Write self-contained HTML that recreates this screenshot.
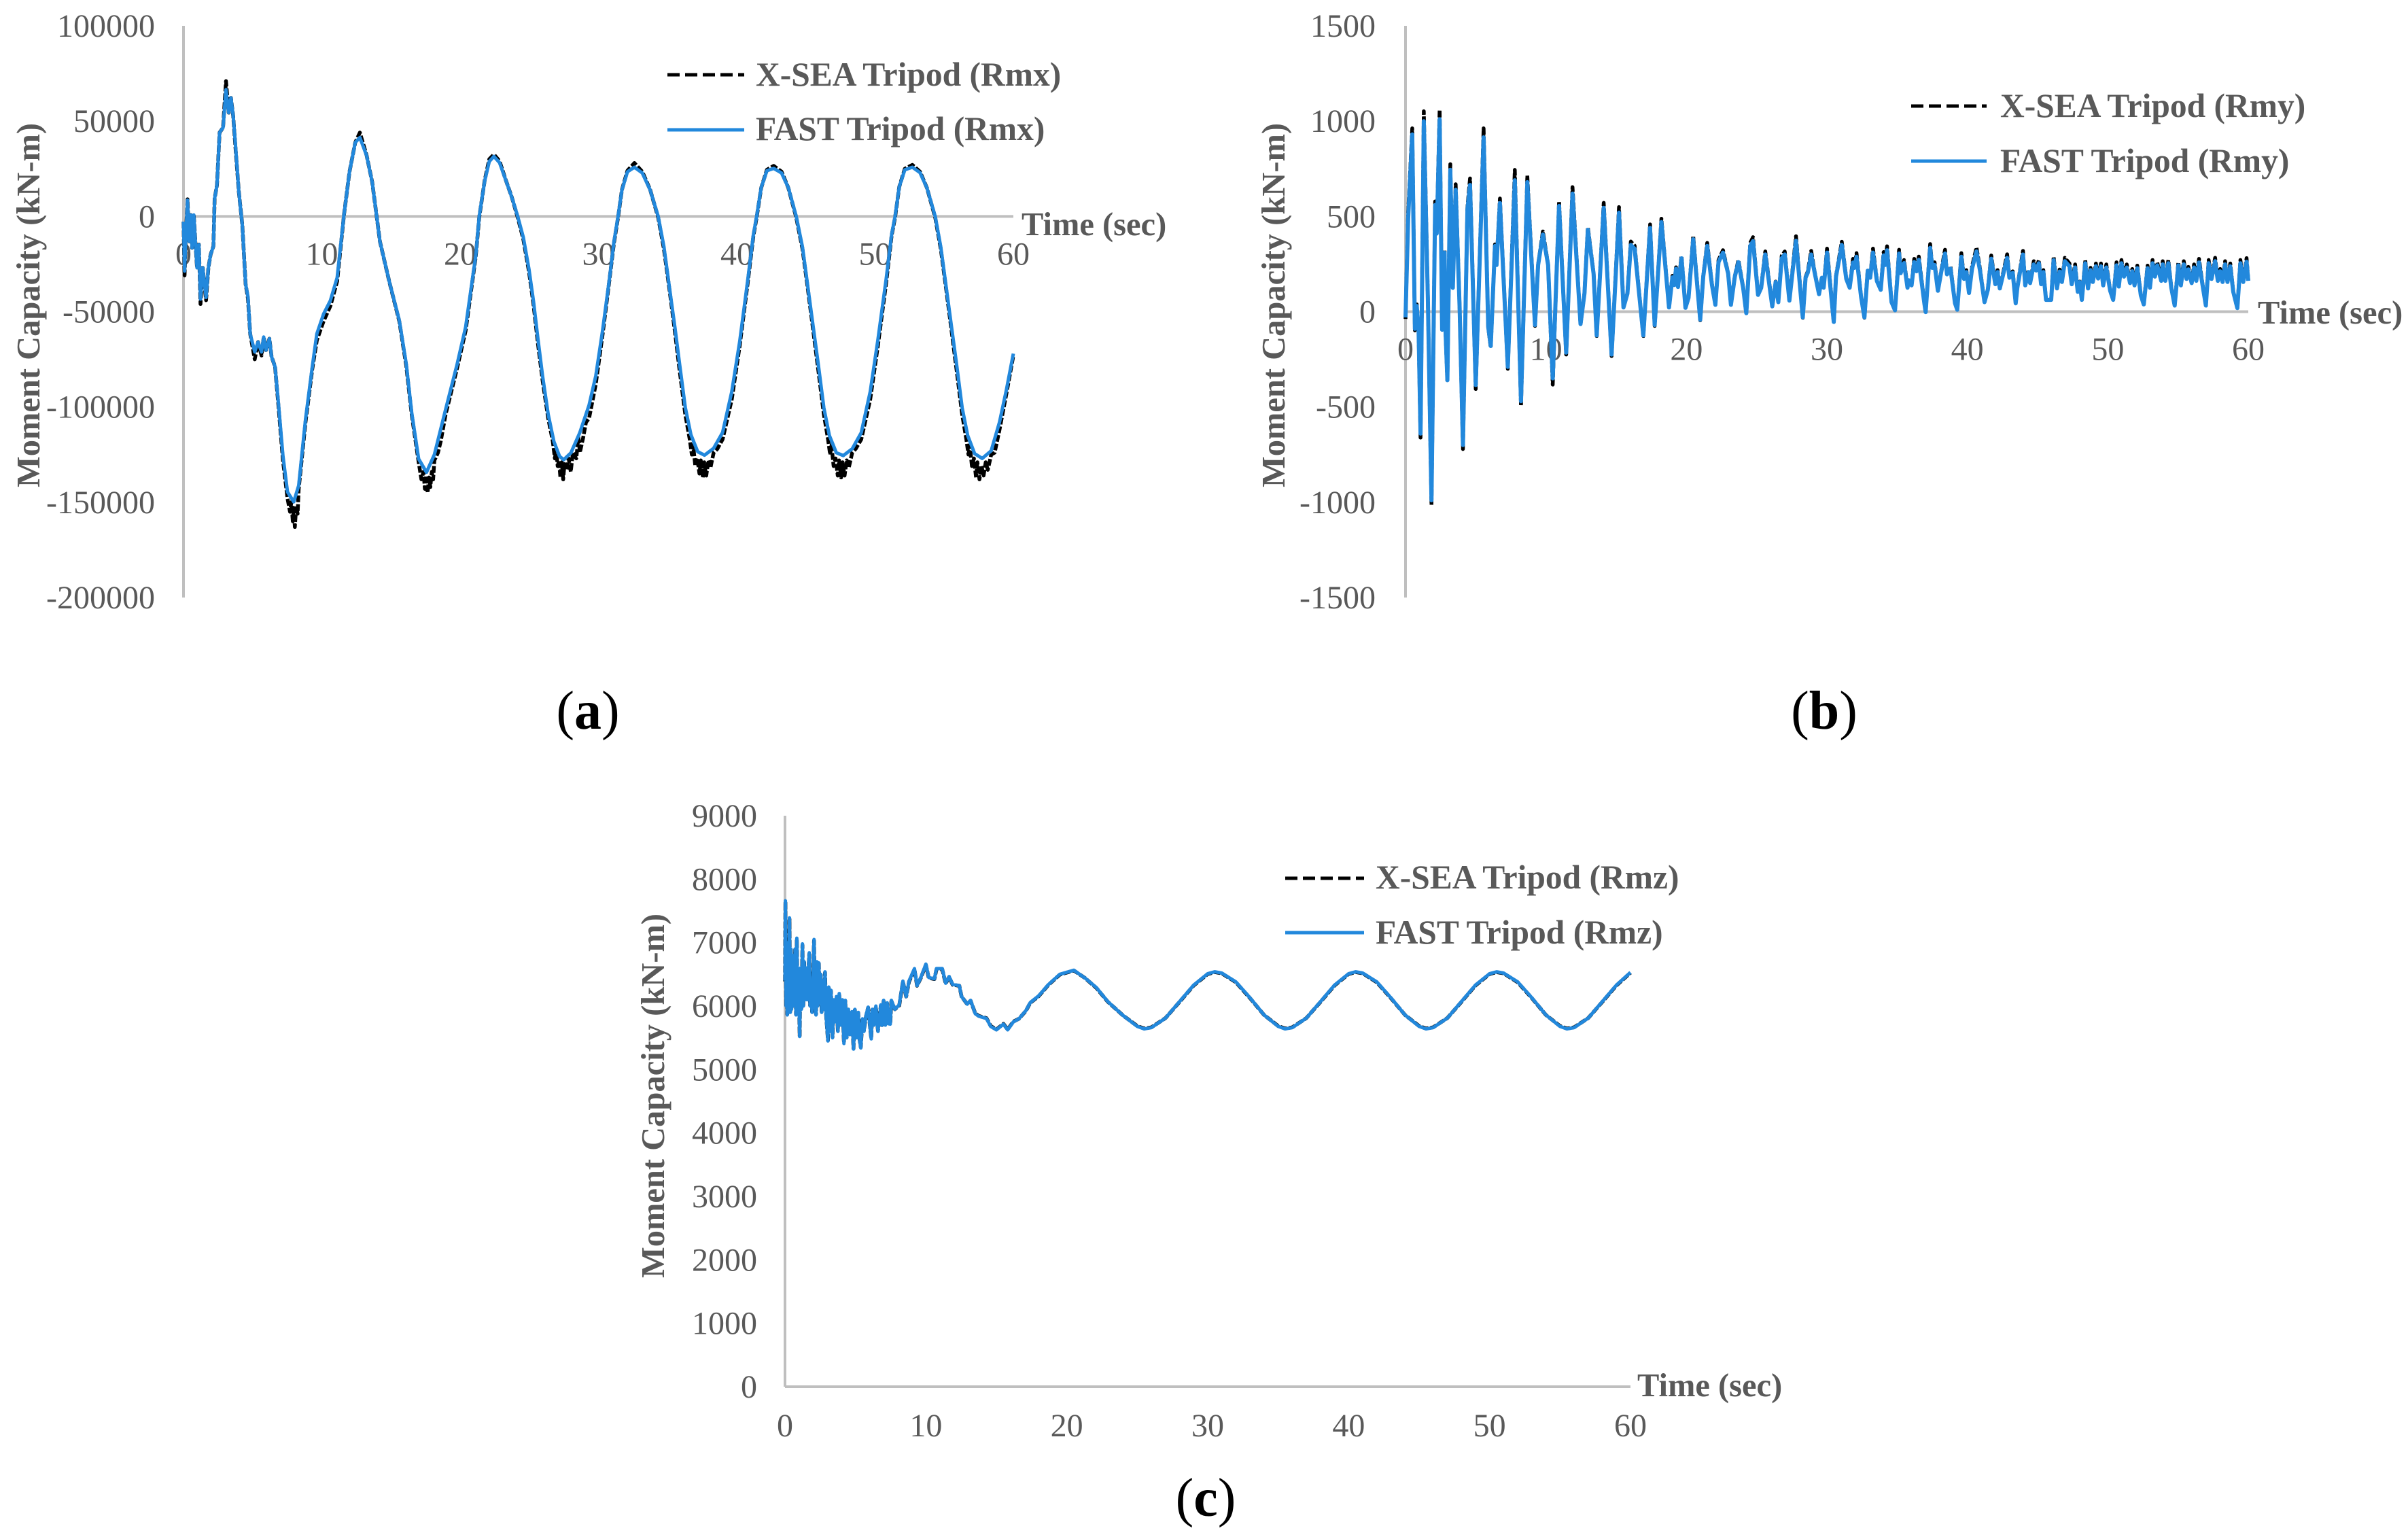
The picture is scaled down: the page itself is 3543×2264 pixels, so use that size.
<!DOCTYPE html>
<html>
<head>
<meta charset="utf-8">
<title>Moment Capacity Time Series</title>
<style>
html,body{margin:0;padding:0;background:#fff;}
svg{display:block;}
text{font-family:"Liberation Serif",serif;}
.lab{font-weight:bold;fill:#595959;font-size:48.5px;}
.leg{font-weight:bold;fill:#595959;font-size:49.5px;}
.cap{fill:#000;font-size:80px;}
</style>
</head>
<body>
<svg id="fig" xmlns="http://www.w3.org/2000/svg" width="3543" height="2264" viewBox="0 0 3543 2264">
  <rect width="3543" height="2264" fill="#fff"/>
  <g id="layer"></g>

  <text class="lab" transform="translate(58,449) rotate(-90)" text-anchor="middle">Moment Capacity (kN-m)</text>
  <text class="lab" x="1503" y="346">Time (sec)</text>
  <line x1="982" y1="110" x2="1095" y2="110" stroke="#000" stroke-width="5" stroke-dasharray="18 8"/>
  <text class="leg" x="1112" y="126">X-SEA Tripod (Rmx)</text>
  <line x1="982" y1="191" x2="1095" y2="191" stroke="#2288dc" stroke-width="5"/>
  <text class="leg" x="1112" y="206">FAST Tripod (Rmx)</text>
  <text class="cap" x="865" y="1072" text-anchor="middle">(<tspan font-weight="bold">a</tspan>)</text>

  <text class="lab" transform="translate(1890,449) rotate(-90)" text-anchor="middle">Moment Capacity (kN-m)</text>
  <text class="lab" x="3322" y="476">Time (sec)</text>
  <line x1="2812" y1="156" x2="2923" y2="156" stroke="#000" stroke-width="5" stroke-dasharray="18 8"/>
  <text class="leg" x="2943" y="172">X-SEA Tripod (Rmy)</text>
  <line x1="2812" y1="237" x2="2923" y2="237" stroke="#2288dc" stroke-width="5"/>
  <text class="leg" x="2943" y="253">FAST Tripod (Rmy)</text>
  <text class="cap" x="2684" y="1072" text-anchor="middle">(<tspan font-weight="bold">b</tspan>)</text>

  <text class="lab" transform="translate(977,1612) rotate(-90)" text-anchor="middle">Moment Capacity (kN-m)</text>
  <text class="lab" x="2409" y="2054">Time (sec)</text>
  <line x1="1891" y1="1292" x2="2007" y2="1292" stroke="#000" stroke-width="5" stroke-dasharray="18 8"/>
  <text class="leg" x="2024" y="1307">X-SEA Tripod (Rmz)</text>
  <line x1="1891" y1="1372" x2="2007" y2="1372" stroke="#2288dc" stroke-width="5"/>
  <text class="leg" x="2024" y="1388">FAST Tripod (Rmz)</text>
  <text class="cap" x="1774" y="2230" text-anchor="middle">(<tspan font-weight="bold">c</tspan>)</text>
</svg>
<script>
var timeTicks = [0,10,20,30,40,50,60];
var aYTicks = [100000,50000,0,-50000,-100000,-150000,-200000];
var bYTicks = [1500,1000,500,0,-500,-1000,-1500];
var cYTicks = [9000,8000,7000,6000,5000,4000,3000,2000,1000,0];

var aFastTimes = [0,.08,.16,.29,.41,.52,.62,.74,.87,.98,1.11,1.23,1.39,1.63,1.8,1.96,2.16,2.25,2.42,2.61,2.86,3.07,3.27,3.43,3.59,3.76,4,4.25,4.49,4.66,4.82,5.15,5.39,5.64,5.8,5.96,6.21,6.37,6.62,6.86,7.19,7.52,7.97,8.33,8.82,9.31,9.64,10.13,10.62,11.11,11.6,12,12.42,12.75,13.24,13.64,14.2,14.87,15.6,16.1,16.5,17,17.57,18.14,18.95,19.77,20.4,21.13,21.38,21.78,22.11,22.44,22.85,23.26,23.75,24.16,24.57,24.98,25.3,25.63,25.96,26.37,26.78,27.19,27.49,28.01,28.66,29.32,29.81,30.3,30.8,31.12,31.42,31.7,32.1,32.6,33.17,33.74,34.32,34.73,35.13,35.54,35.87,36.28,36.69,37.18,37.67,38.33,38.98,39.64,40.21,40.79,41.2,41.44,41.77,42.18,42.67,43.24,43.73,44.3,44.75,45.15,45.55,45.9,46.3,46.7,47.2,47.7,48.35,49,49.65,50.2,50.8,51.2,51.45,51.75,52.15,52.7,53.25,53.75,54.35,54.75,55.15,55.55,55.9,56.3,56.7,57.2,57.75,58.4,59,59.5,60];
var aFastValues = [-2700,-28700,-11400,8500,-13100,750,-16500,750,-14800,-27000,-14800,-43400,-27000,-42500,-27000,-20000,-15700,9400,16300,44000,46600,66500,54400,62200,52700,37100,12900,-4400,-35600,-42000,-61600,-71100,-65900,-71100,-63300,-70200,-64200,-73700,-78900,-97900,-125600,-144600,-149800,-141200,-106600,-78900,-61600,-51200,-44200,-32100,750,23300,38800,41400,31900,18100,-13100,-33900,-54600,-77100,-103100,-127300,-134300,-125000,-101400,-78000,-58100,-20600,0,18700,28800,31500,28200,19900,9800,0,-11000,-27700,-44400,-64600,-83700,-103900,-118200,-125900,-127700,-124100,-113400,-99100,-83700,-59900,-32500,-13400,0,13900,23400,25800,22800,13900,0,-15800,-37200,-58700,-77700,-100300,-114600,-123500,-125300,-121700,-113400,-92000,-65800,-33700,-9900,0,15100,24000,25200,22800,15100,0,-16000,-37500,-59000,-78000,-100500,-115000,-124000,-125500,-122000,-113500,-92000,-65000,-33000,-9500,0,15500,24500,25800,23000,15000,0,-16000,-37500,-59000,-78000,-100500,-115000,-124500,-127000,-123000,-108000,-91000,-72000];

var aXseaTimes = [0,.08,.16,.29,.41,.52,.62,.74,.87,.98,1.11,1.23,1.39,1.63,1.8,1.96,2.16,2.25,2.42,2.61,2.86,3.07,3.27,3.43,3.59,3.76,4,4.25,4.49,4.66,4.82,5.15,5.39,5.64,5.8,5.96,6.21,6.37,6.62,6.86,7.19,7.52,7.7,7.8,7.9,7.97,8.05,8.15,8.25,8.33,8.82,9.31,9.64,10.13,10.62,11.11,11.6,12,12.42,12.75,13.24,13.64,14.2,14.87,15.6,16.1,16.5,17,17.2,17.35,17.45,17.55,17.65,17.75,17.85,17.95,18.05,18.14,18.4,18.6,18.95,19.77,20.4,21.13,21.38,21.78,22.11,22.44,22.85,23.26,23.75,24.16,24.57,24.98,25.3,25.63,25.96,26.37,26.7,26.85,26.95,27.05,27.15,27.25,27.35,27.45,27.55,27.7,27.85,28,28.15,28.4,28.55,28.66,28.9,29.1,29.32,29.81,30.3,30.8,31.12,31.42,31.7,32.1,32.6,33.17,33.74,34.32,34.73,35.13,35.54,35.87,36.28,36.6,36.75,36.85,37,37.15,37.3,37.4,37.55,37.65,37.8,37.95,38.1,38.33,38.6,38.98,39.64,40.21,40.79,41.2,41.44,41.77,42.18,42.67,43.24,43.73,44.3,44.75,45.15,45.55,45.9,46.3,46.6,46.75,46.85,47,47.15,47.3,47.4,47.55,47.65,47.8,47.95,48.1,48.35,48.6,49,49.65,50.2,50.8,51.2,51.45,51.75,52.15,52.7,53.25,53.75,54.35,54.75,55.15,55.55,55.9,56.3,56.6,56.75,56.85,57,57.15,57.3,57.4,57.55,57.7,57.85,58,58.15,58.4,58.65,59,59.5,60];
var aXseaValues = [-2700,-31000,-11400,9000,-13100,750,-16500,750,-14800,-27000,-14800,-46000,-27000,-44000,-27000,-20000,-15700,9400,16300,44000,46600,71000,54400,62200,52700,36000,12900,-4400,-35600,-43000,-61600,-75000,-65900,-73000,-63300,-70200,-64200,-73700,-78900,-99000,-128000,-148000,-155000,-150000,-160000,-153000,-163000,-152000,-156000,-143000,-108000,-80000,-65000,-55000,-47000,-34000,750,23300,38800,44000,32000,18100,-13100,-34000,-55000,-78000,-104000,-129000,-138000,-134000,-143000,-136000,-145000,-137000,-142000,-134000,-138000,-128000,-124000,-118000,-104000,-80000,-60000,-21000,-500,19000,30000,32500,29000,20000,9800,-500,-12000,-29000,-46000,-67000,-86000,-106000,-118000,-127000,-122000,-131000,-128000,-137000,-129000,-138000,-130000,-133000,-127000,-134000,-124000,-127000,-116000,-124000,-116000,-108000,-106000,-88000,-62000,-33000,-14000,-500,14000,24000,28000,23500,14000,-500,-17000,-38000,-61000,-81000,-104000,-117000,-125000,-120000,-131000,-127000,-135000,-128000,-137000,-129000,-136000,-128000,-132000,-124000,-122000,-117000,-96000,-68000,-35000,-10500,-500,15000,24500,26500,23500,15000,-500,-17000,-38500,-61000,-81000,-104000,-117000,-125000,-120000,-131000,-127000,-136000,-128000,-137000,-129000,-136000,-128000,-132000,-124000,-122000,-117000,-96000,-68000,-35000,-10000,-500,15500,25000,27000,23500,15000,-500,-17000,-38500,-61000,-81000,-104000,-117000,-125000,-120000,-131000,-127000,-137000,-129000,-138000,-131000,-136000,-129000,-133000,-125000,-124000,-112000,-93000,-73000];

var bTimes = [0,.19,.48,.67,.8,.93,1.07,1.3,1.59,1.85,2.11,2.22,2.43,2.61,2.7,2.78,2.84,2.98,3.19,3.37,3.57,3.85,4.09,4.41,4.59,5,5.56,5.89,6.07,6.37,6.48,6.72,7.28,7.78,8.22,8.67,9.22,9.44,9.78,10.15,10.48,10.93,11.44,11.89,12.46,12.74,12.98,13.39,13.61,14.11,14.67,15.2,15.52,15.8,16.04,16.31,16.93,17.41,17.74,18.22,18.76,19,19.13,19.26,19.4,19.65,19.93,20.15,20.48,20.98,21.2,21.48,21.82,22.06,22.28,22.6,22.97,23.17,23.45,23.7,24.04,24.26,24.54,24.74,25.1,25.32,25.61,26.11,26.35,26.54,26.78,27,27.33,
  27.8,28.28,28.48,28.64,28.88,29.12,29.44,29.64,29.77,30.01,30.49,30.65,31.06,31.38,31.62,31.86,31.95,32.11,32.43,32.67,32.91,33.08,33.28,33.56,33.83,34.04,34.15,34.28,34.6,34.85,35.14,35.25,35.49,35.74,35.82,36.03,36.22,36.38,36.54,36.94,37.03,37.35,37.5,37.67,37.9,38.15,38.41,38.55,38.8,39.12,39.28,39.57,39.76,39.93,40.12,40.33,40.65,40.9,41.22,41.46,41.7,41.99,42.15,42.31,42.59,42.83,42.99,43.23,43.44,43.56,43.96,
  44.12,44.36,44.47,44.73,44.9,45.09,45.25,45.41,45.6,45.97,46.14,46.38,46.57,46.73,46.94,47.27,47.43,47.67,47.86,48,48.15,48.39,48.59,48.77,48.93,49.15,49.31,49.51,49.67,49.89,50.17,50.38,50.62,50.78,50.97,51.15,51.35,51.58,51.74,51.9,52.1,52.35,52.56,52.83,53,53.18,53.35,53.52,53.8,53.91,54.09,54.31,54.52,54.76,55.02,55.2,55.41,55.6,55.73,55.97,56.14,56.3,56.49,56.78,56.98,57.18,57.38,57.64,57.83,58,58.17,58.35,58.52,58.72,58.93,59.22,59.44,59.64,59.88,60];
var bXseaValues = [-38,519,962,-98,38,-98,-661,1052,68,-1014,579,413,1060,-98,300,323,-90,-368,774,128,669,23,-721,549,699,-406,962,-83,-188,353,248,594,-300,744,-496,714,-75,248,421,248,-383,579,-225,654,-68,98,443,203,-128,571,-233,549,23,98,368,346,-128,458,-75,488,23,188,143,233,135,293,23,75,398,-45,188,361,143,38,270,323,203,38,188,271,128,-10,361,391,90,128,316,30,158,53,293,316,60,
  396,-32,182,212,319,212,93,182,128,331,-56,188,367,176,128,277,235,307,81,-32,224,182,331,164,117,313,250,343,51,7,325,206,271,128,170,140,277,218,289,45,-2,355,236,259,111,218,325,200,236,45,10,307,176,218,99,236,337,224,51,117,295,146,218,123,218,301,182,212,45,128,319,
  140,218,152,265,222,271,146,218,63,63,289,123,221,158,283,253,146,248,105,158,63,271,123,230,158,253,176,253,140,248,111,63,259,134,271,188,248,152,224,140,242,87,39,242,128,271,188,259,164,265,164,271,128,33,259,140,265,176,235,152,248,164,277,123,33,271,176,283,164,224,158,265,158,253,105,19,271,158,281,164];
var bFastValues = [-30,490,930,-90,30,-90,-640,1000,65,-990,560,410,1010,-95,290,310,-85,-360,745,125,640,22,-700,535,665,-385,915,-80,-180,345,245,570,-290,690,-470,680,-70,245,405,245,-350,555,-215,620,-65,95,430,200,-125,545,-225,520,22,95,350,330,-125,440,-70,470,22,180,140,225,130,280,20,72,380,-42,185,345,140,36,260,310,200,36,185,260,125,-8,345,370,88,125,300,28,155,50,280,300,58,
  372,-30,178,205,300,208,92,178,126,310,-54,184,350,172,126,258,230,288,80,-30,215,178,310,160,115,295,245,322,50,7,305,202,255,126,165,138,260,212,272,44,-2,335,230,245,110,212,305,196,226,44,10,288,172,208,98,225,316,215,50,115,278,144,208,122,208,282,178,204,44,126,300,
  138,208,150,248,216,254,144,208,62,62,270,122,210,156,265,238,144,232,104,155,62,254,122,218,156,238,174,238,138,232,110,62,243,132,254,184,232,150,212,138,228,86,38,228,126,254,184,243,162,248,162,254,126,32,243,138,248,172,222,150,232,162,258,122,32,254,172,265,162,212,156,248,156,238,104,19,254,156,262,162];

var cTimes = [0,.03,.08,.12,.16,.22,.27,.32,.37,.42,.47,.52,.57,.62,.67,.72,.78,.84,.9,.96,1.04,1.1,1.16,1.24,1.3,1.36,1.42,1.5,1.56,1.64,1.72,1.78,1.84,1.92,2,2.06,2.12,2.2,2.26,2.32,2.4,2.46,2.54,2.6,2.68,2.76,2.84,2.92,3.05,3.1,3.18,3.26,3.37,3.46,3.55,3.65,3.75,3.85,3.95,4.07,4.18,4.28,4.38,4.5,4.6,4.75,4.86,4.96,5.1,5.2,5.3,5.38,5.5,5.6,5.75,5.9,6.02,6.12,6.2,6.32,6.45,6.6,6.8,6.88,7,7.12,7.25,7.35,7.47,7.55,7.8,8.11,8.37,8.6,8.8,9.19,9.37,9.64,10,10.2,10.6,10.75,11.16,11.4,11.65,11.9,12.37,12.53,12.93,13.17,13.5,13.75,14.3,14.6,15,15.5,15.8,16.2,16.6,17.1,17.4,18,18.7,19.5,20.5,21.3,22.1,22.9,24,25,25.5,26,27,28,29,30,30.5,31,32,33,34,35,35.5,36,37,38,39,40,40.5,41,42,43,44,45,45.5,46,47,48,49,50,50.5,51,52,53,54,55,55.5,56,57,58,59,60];
var cFastValues = [6400,7660,6000,6900,5860,7000,5900,7390,5900,6900,5950,6800,6000,6700,6100,6900,5860,7070,5900,6500,5520,6600,5950,6980,6000,6700,6100,6600,6100,6500,6840,6000,6400,5900,6500,7050,6100,5860,6700,6000,6680,6050,6500,5900,6400,5950,6540,5850,5450,6300,5600,6250,5500,6100,5750,6150,5600,6197,5700,6100,5410,6090,5500,5950,5550,5911,5322,5947,5500,5900,5450,5340,5800,5600,5850,5983,5700,5483,5950,5700,6000,5600,6018,5697,6090,5700,6050,5720,5715,6090,5950,6018,6393,6150,6393,6590,6322,6450,6661,6450,6429,6590,6590,6360,6465,6340,6322,6150,6030,6090,5880,5840,5804,5679,5625,5715,5625,5750,5800,5929,6054,6161,6340,6500,6565,6440,6290,6072,5850,5680,5640,5660,5810,6070,6330,6510,6540,6520,6380,6130,5860,5680,5640,5660,5810,6070,6330,6510,6540,6520,6380,6130,5860,5680,5640,5660,5810,6070,6330,6510,6540,6520,6380,6130,5860,5680,5640,5660,5810,6070,6330,6530];
var cXseaValues = [6390,7640,6010,6890,5870,6990,5910,7370,5910,6890,5960,6790,6010,6690,6110,6890,5870,7050,5910,6490,5530,6590,5960,6960,6010,6690,6110,6590,6110,6490,6820,6010,6390,5910,6490,7030,6110,5870,6690,6010,6670,6060,6490,5910,6390,5960,6530,5860,5460,6290,5610,6240,5510,6090,5760,6140,5610,6190,5710,6090,5420,6080,5510,5940,5560,5900,5330,5940,5510,5890,5460,5350,5790,5610,5840,5975,5710,5490,5940,5710,5990,5610,6010,5700,6080,5710,6040,5730,5720,6080,5950,6010,6385,6150,6385,6580,6320,6445,6650,6445,6425,6580,6580,6355,6460,6335,6320,6150,6030,6085,5885,5845,5808,5685,5630,5720,5630,5755,5800,5925,6050,6155,6335,6495,6560,6440,6285,6070,5850,5685,5645,5665,5810,6065,6325,6505,6535,6515,6375,6125,5860,5685,5645,5665,5810,6065,6325,6505,6535,6515,6375,6125,5860,5685,5645,5665,5810,6065,6325,6505,6535,6515,6375,6125,5860,5685,5645,5665,5810,6065,6325,6525];

var NS = 'http://www.w3.org/2000/svg';
var layer = document.getElementById('layer');

function makeEl(tag, parent) {
  var el = document.createElementNS(NS, tag);
  parent.appendChild(el);
  return el;
}

function scale(d0, d1, r0, r1) {
  return function (v) { return r0 + (v - d0) / (d1 - d0) * (r1 - r0); };
}

function pathFrom(times, values, x, y) {
  var d = '';
  for (var i = 0; i < times.length; i++) {
    d += (i ? 'L' : 'M') + x(times[i]).toFixed(1) + ' ' + y(values[i]).toFixed(1);
  }
  return d;
}

function drawChart(id, box, yTicks, xseaT, xseaV, fastT, fastV) {
  var yMax = yTicks[0], yMin = yTicks[yTicks.length - 1];
  var x = scale(0, 60, box.left, box.right);
  var y = scale(yMin, yMax, box.bottom, box.top);
  var axisY = y(Math.max(0, yMin));

  var g = makeEl('g', layer);
  
  

  var yAxis = makeEl('line', g);
  
  
  yAxis.setAttribute('x1', box.left); yAxis.setAttribute('x2', box.left);
  yAxis.setAttribute('y1', box.top); yAxis.setAttribute('y2', box.bottom);
  yAxis.setAttribute('stroke', '#bfbfbf'); yAxis.setAttribute('stroke-width', '4');

  var xAxis = makeEl('line', g);
  
  
  xAxis.setAttribute('x1', box.left); xAxis.setAttribute('x2', box.right);
  xAxis.setAttribute('y1', axisY); xAxis.setAttribute('y2', axisY);
  xAxis.setAttribute('stroke', '#bfbfbf'); xAxis.setAttribute('stroke-width', '4');

  yTicks.forEach(function (v) {
    var t = makeEl('text', g);
    
    
    t.setAttribute('x', box.labelX);
    t.setAttribute('y', y(v) + 16);
    t.setAttribute('text-anchor', 'end');
    t.setAttribute('font-size', '48');
    t.setAttribute('fill', '#595959');
    t.textContent = v;
  });

  timeTicks.forEach(function (v) {
    var t = makeEl('text', g);
    
    
    t.setAttribute('x', x(v));
    t.setAttribute('y', axisY + box.tickGap);
    t.setAttribute('text-anchor', 'middle');
    t.setAttribute('font-size', '48');
    t.setAttribute('fill', '#595959');
    t.textContent = v;
  });

  var black = makeEl('path', g);
  
  
  black.setAttribute('d', pathFrom(xseaT, xseaV, x, y));
  black.setAttribute('fill', 'none');
  black.setAttribute('stroke', '#000');
  black.setAttribute('stroke-width', '5.5');
  black.setAttribute('stroke-dasharray', '10 3');
  black.setAttribute('stroke-linejoin', 'round');

  var blue = makeEl('path', g);
  
  
  blue.setAttribute('d', pathFrom(fastT, fastV, x, y));
  blue.setAttribute('fill', 'none');
  blue.setAttribute('stroke', '#2288dc');
  blue.setAttribute('stroke-width', box.lineWidth);
  blue.setAttribute('stroke-linejoin', 'round');
}

drawChart('a', {left:270, right:1491, top:38, bottom:879, labelX:228, tickGap:71, lineWidth:5}, aYTicks, aXseaTimes, aXseaValues, aFastTimes, aFastValues);
drawChart('b', {left:2068, right:3308, top:38, bottom:879, labelX:2024, tickGap:71, lineWidth:6}, bYTicks, bTimes, bXseaValues, bTimes, bFastValues);
drawChart('c', {left:1155, right:2399, top:1200, bottom:2040, labelX:1114, tickGap:73, lineWidth:5}, cYTicks, cTimes, cXseaValues, cTimes, cFastValues);
</script>
</body>
</html>
